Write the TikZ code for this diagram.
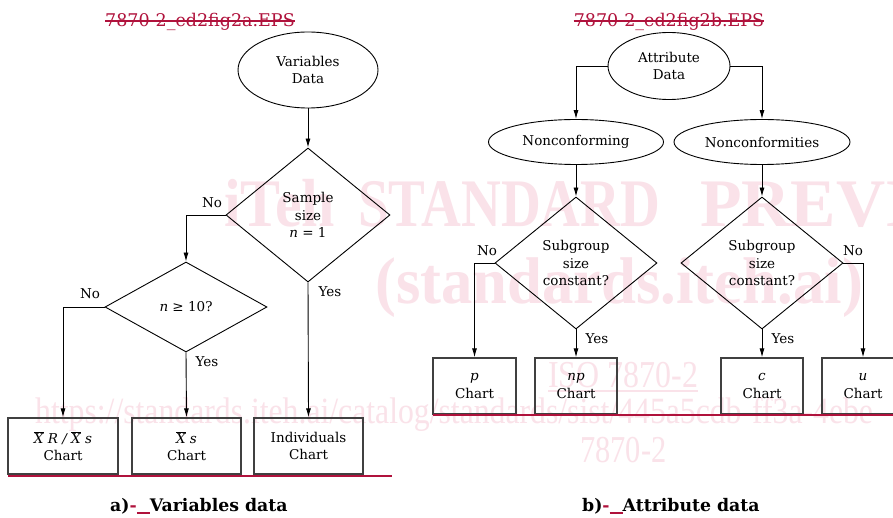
\documentclass[tikz,border=0pt]{standalone}
\usepackage{fontspec}
\setmainfont{DejaVu Serif}
\newfontfamily\wmfont{Liberation Serif}
\usetikzlibrary{shapes.geometric,arrows.meta}
\definecolor{isored}{HTML}{B0123C}
\definecolor{wmpink}{HTML}{FAE2E9}
\newcommand\lbl{\fontsize{13.5}{17.5}\selectfont}
\newcommand\xbar{$\overline{\hbox{\itshape X}}$}
\newcommand\wmbig{\wmfont\bfseries\fontsize{68}{70}\selectfont}
\newcommand\wmsmall{\wmfont\fontsize{38}{40}\selectfont}
\tikzset{
  conn/.style={draw=black, line width=0.9pt},
  arr/.style={conn, -{Latex[length=9pt,width=5pt]}},
  ell/.style={ellipse, draw=black, line width=0.9pt, inner sep=0pt, align=center, font=\lbl},
  dia/.style={diamond, draw=black, line width=0.9pt, inner sep=0pt, align=center, font=\lbl},
  chartbox/.style={rectangle, draw=black!75, line width=1.3pt, inner sep=0pt, align=center, font=\lbl},
  lab/.style={font=\lbl, inner sep=0pt},
  wm/.style={text=wmpink, inner sep=0pt, anchor=base west},
  ttl/.style={text=isored, font=\fontsize{17.5}{20}\selectfont, inner sep=0pt, anchor=base},
  captext/.style={font=\fontsize{17.3}{19}\selectfont\bfseries, inner sep=0pt, anchor=base west},
}
\begin{document}
\begin{tikzpicture}[x=1pt,y=-1pt]
\useasboundingbox (0,0) rectangle (893,518);
\fill[white] (0,0) rectangle (893,518);
\clip (0,0) rectangle (893,518);

% watermark
\node[wm] (wm1a) at (224,227) {\wmbig\scalebox{0.88}[1]{iTeh}};
\node[wm] (wm1b) at (358,227) {\wmbig\scalebox{0.81}[1]{STANDARD}};
\node[wm] (wm1c) at (700,227) {\wmbig\scalebox{1.0}[1]{PREVIEW}};
\node[wm] (wm2) at (375,303) {\wmfont\bfseries\fontsize{66}{70}\selectfont\scalebox{0.95}[1]{(standards.iteh.ai)}};
\node[wm] (wm3) at (548,387) {\wmsmall\scalebox{0.84}[1]{ISO 7870-2}};
\draw[wmpink, line width=2pt] (548,391) -- (698,391);
\node[wm] (wm4) at (35,423) {\wmfont\fontsize{37}{40}\selectfont\scalebox{0.857}[1]{https://standards.iteh.ai/catalog/standards/sist/445a5cdb-ff3a-4ebe-}};
\node[wm] (wm5) at (580,462) {\wmsmall\scalebox{0.8}[1]{7870-2}};

% titles
\node[ttl] (t1) at (200,27) {7870-2\_ed2fig2a.EPS};
\draw[isored, line width=1.3pt] ([yshift=6pt]t1.base west) -- ([yshift=6pt]t1.base east);
\node[ttl] (t2) at (669,27) {7870-2\_ed2fig2b.EPS};
\draw[isored, line width=1.3pt] ([yshift=6pt]t2.base west) -- ([yshift=6pt]t2.base east);

% left panel
\node[ell, minimum width=140pt, minimum height=76pt] (vd) at (308,70) {Variables\\Data};
\node[dia, minimum width=164pt, minimum height=134pt] (d1) at (308,215) {Sample\\size\\\textit{n} = 1};
\node[dia, minimum width=162pt, minimum height=90pt] (d2) at (186,307) {\textit{n} ≥ 10?};
\node[chartbox, minimum width=110pt, minimum height=56pt] (xr) at (63,446) {{\itshape\xbar\ R / \xbar\ s}\\Chart};
\node[chartbox, minimum width=109pt, minimum height=56pt] (xs) at (186.5,446) {{\itshape\xbar\ s}\\Chart};
\node[chartbox, minimum width=109pt, minimum height=56pt] (ind) at (308.5,446) {Individuals\\Chart};

\draw[arr] (vd.south) -- (d1.north);
\draw[arr] (d1.west) -| (d2.north);
\draw[arr] (d1.south) -- (ind.north);
\draw[arr] (d2.west) -| (xr.north);
\draw[arr] (d2.south) -- (xs.north);

\node[lab] (no1) at (212,203) {No};
\node[lab] (yes1) at (330,292) {Yes};
\node[lab] (no2) at (90,294) {No};
\node[lab] (yes2) at (207,362) {Yes};

\draw[isored, line width=2pt] (8,476) -- (392,476);

% right panel
\node[ell, minimum width=122pt, minimum height=67pt] (ad) at (669,66) {Attribute\\Data};
\node[ell, minimum width=175pt, minimum height=45pt] (nc) at (576,142) {Nonconforming};
\node[ell, minimum width=176pt, minimum height=45pt] (nci) at (762,142) {Nonconformities};
\node[dia, minimum width=162pt, minimum height=132pt] (dl) at (576,263) {Subgroup\\size\\constant?};
\node[dia, minimum width=162pt, minimum height=132pt] (dr) at (762,263) {Subgroup\\size\\constant?};
\node[chartbox, minimum width=83pt, minimum height=56pt] (pb) at (474.5,386) {\textit{p}\\Chart};
\node[chartbox, minimum width=82pt, minimum height=56pt] (npb) at (576,386) {\textit{np}\\Chart};
\node[chartbox, minimum width=82pt, minimum height=56pt] (cb) at (762,386) {\textit{c}\\Chart};
\node[chartbox, minimum width=82pt, minimum height=56pt] (ub) at (863,386) {\textit{u}\\Chart};

\draw[arr] (ad.west) -| (nc.north);
\draw[arr] (ad.east) -| (nci.north);
\draw[arr] (nc.south) -- (dl.north);
\draw[arr] (nci.south) -- (dr.north);
\draw[arr] (dl.west) -| (pb.north);
\draw[arr] (dl.south) -- (npb.north);
\draw[arr] (dr.south) -- (cb.north);
\draw[arr] (dr.east) -| (ub.north);

\node[lab] (no3) at (487,251) {No};
\node[lab] (yes3) at (597,339) {Yes};
\node[lab] (yes4) at (783,339) {Yes};
\node[lab] (no4) at (853,251) {No};

\draw[isored, line width=2pt] (433,415) -- (893,415);

% captions
\node[captext] (ca) at (110,511) {a)\textcolor{isored}{-\rule[-2.5pt]{13pt}{1.6pt}}Variables data};
\node[captext] (cb2) at (582,511) {b)\textcolor{isored}{-\rule[-2.5pt]{13pt}{1.6pt}}Attribute data};
\end{tikzpicture}
\end{document}
